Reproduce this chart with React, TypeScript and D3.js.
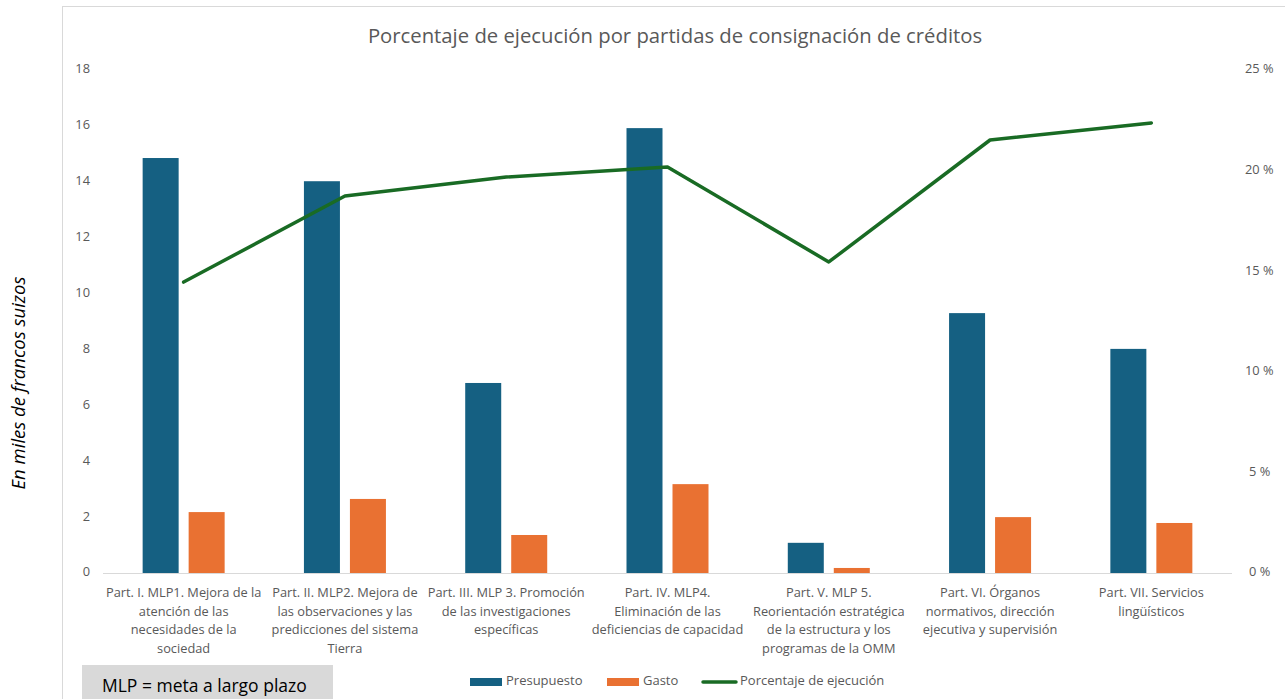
import * as d3 from "d3";

const categories = [
  ["Part. I. MLP1. Mejora de la", "atención de las", "necesidades de la", "sociedad"],
  ["Part. II. MLP2. Mejora de", "las observaciones y las", "predicciones del sistema", "Tierra"],
  ["Part. III. MLP 3. Promoción", "de las investigaciones", "específicas"],
  ["Part. IV. MLP4.", "Eliminación de las", "deficiencias de capacidad"],
  ["Part. V. MLP 5.", "Reorientación estratégica", "de la estructura y los", "programas de la OMM"],
  ["Part. VI. Órganos", "normativos, dirección", "ejecutiva y supervisión"],
  ["Part. VII. Servicios", "lingüísticos"],
];
const presupuesto = [14.85, 14.02, 6.8, 15.92, 1.08, 9.3, 8.02];
const gasto = [2.18, 2.65, 1.36, 3.18, 0.18, 2.0, 1.79];
const porcentaje = [14.46, 18.74, 19.68, 20.18, 15.46, 21.52, 22.37];
const leftTicks = [0, 2, 4, 6, 8, 10, 12, 14, 16, 18];
const rightTicks = [0, 5, 10, 15, 20, 25];

const BLUE = "#156082";
const ORANGE = "#E97132";
const GREEN = "#196B24";
const GREY_TEXT = "#595959";
const FONT = "'Open Sans', 'Noto Sans', sans-serif";

const WIDTH = 1285;
const HEIGHT = 699;
const PLOT = { left: 103, right: 1232, top: 70, bottom: 573 };

export default function App() {
  const idx = categories.map((_, i) => i);

  const xScale = d3.scaleBand<number>().domain(idx).range([PLOT.left, PLOT.right]);
  const yLeft = d3.scaleLinear().domain([0, 18]).range([PLOT.bottom, PLOT.top]);
  const yRight = d3.scaleLinear().domain([0, 25]).range([PLOT.bottom, PLOT.top]);

  const barW = 36;
  const offset = 23;
  const cx = (i: number) => (xScale(i) ?? 0) + xScale.bandwidth() / 2;

  const line = d3
    .line<number>()
    .x((_, i) => cx(i))
    .y((d) => yRight(d));

  return (
    <svg
      width={WIDTH}
      height={HEIGHT}
      style={{ position: "absolute", left: 0, top: 0, background: "#fff" }}
    >
      {/* chart frame */}
      <rect x={62.5} y={6.5} width={1240} height={720} fill="#fff" stroke="#d9d9d9" strokeWidth={1} />

      <text
        transform="translate(25,383) rotate(-90)"
        textAnchor="middle"
        fontFamily="'Open Sans', sans-serif"
        fontStyle="italic"
        fontSize={18.5}
        fill="#000"
      >
        En miles de francos suizos
      </text>

      <text
        x={675}
        y={43}
        textAnchor="middle"
        fontFamily={FONT}
        fontSize={20.3}
        fill={GREY_TEXT}
      >
        Porcentaje de ejecución por partidas de consignación de créditos
      </text>

      {/* left axis labels */}
      {leftTicks.map((t) => (
        <text
          key={t}
          x={90}
          y={yLeft(t)}
          textAnchor="end"
          dominantBaseline="middle"
          fontFamily={FONT}
          fontSize={12.8}
          fill={GREY_TEXT}
        >
          {t}
        </text>
      ))}

      {/* right axis labels */}
      {rightTicks.map((t) => (
        <text
          key={t}
          x={t >= 10 ? 1245 : 1249}
          y={yRight(t)}
          dominantBaseline="middle"
          fontFamily={FONT}
          fontSize={12.8}
          fill={GREY_TEXT}
        >
          {t} %
        </text>
      ))}

      {/* bars */}
      {presupuesto.map((v, i) => (
        <rect
          key={"p" + i}
          x={cx(i) - offset - barW / 2}
          y={yLeft(v)}
          width={barW}
          height={yLeft(0) - yLeft(v)}
          fill={BLUE}
        />
      ))}
      {gasto.map((v, i) => (
        <rect
          key={"g" + i}
          x={cx(i) + offset - barW / 2}
          y={yLeft(v)}
          width={barW}
          height={yLeft(0) - yLeft(v)}
          fill={ORANGE}
        />
      ))}

      {/* baseline */}
      <line x1={PLOT.left} x2={PLOT.right} y1={PLOT.bottom + 0.5} y2={PLOT.bottom + 0.5} stroke="#d9d9d9" strokeWidth={1} />

      {/* percent line */}
      <path
        d={line(porcentaje) ?? ""}
        fill="none"
        stroke={GREEN}
        strokeWidth={3.5}
        strokeLinejoin="round"
        strokeLinecap="round"
      />

      {/* category labels */}
      {categories.map((lines, i) => (
        <text
          key={"c" + i}
          textAnchor="middle"
          fontFamily={FONT}
          fontSize={12.8}
          fill={GREY_TEXT}
        >
          {lines.map((l, j) => (
            <tspan key={j} x={cx(i)} y={597 + j * 18.7}>
              {l}
            </tspan>
          ))}
        </text>
      ))}

      {/* legend */}
      <g fontFamily={FONT} fontSize={13} fill={GREY_TEXT}>
        <rect x={470} y={678} width={32} height={8} fill={BLUE} />
        <text x={506} y={682} dominantBaseline="middle">Presupuesto</text>
        <rect x={607} y={678} width={32} height={8} fill={ORANGE} />
        <text x={643} y={682} dominantBaseline="middle">Gasto</text>
        <line x1={703} x2={736} y1={682} y2={682} stroke={GREEN} strokeWidth={3.5} strokeLinecap="round" />
        <text x={740} y={682} dominantBaseline="middle">Porcentaje de ejecución</text>
      </g>

      {/* note box */}
      <rect x={82} y={665} width={251} height={40} fill="#d9d9d9" />
      <text x={102} y={687} dominantBaseline="middle" fontFamily="'Open Sans', sans-serif" fontSize={17.5} fill="#000">
        MLP = meta a largo plazo
      </text>
    </svg>
  );
}
